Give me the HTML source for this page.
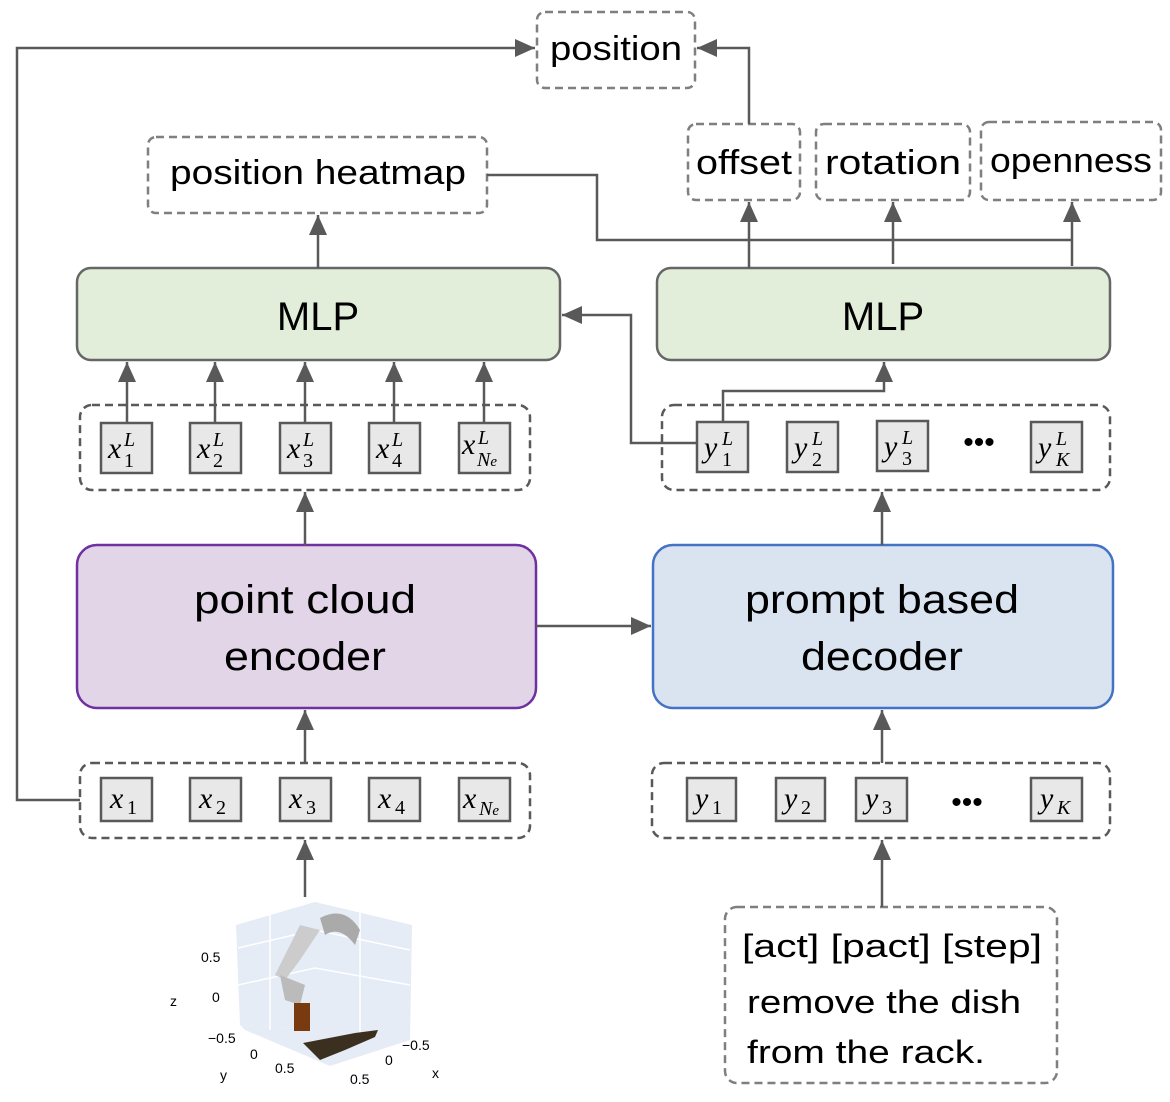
<!DOCTYPE html>
<html><head><meta charset="utf-8"><style>
html,body{margin:0;padding:0;background:#fff}
svg{display:block}
text{font-family:"Liberation Sans",sans-serif;fill:#000}
.m text{font-family:"Liberation Serif",serif}
</style></head><body>
<svg width="1170" height="1102" viewBox="0 0 1170 1102" xmlns="http://www.w3.org/2000/svg">
<defs>
<marker id="b" viewBox="0 0 10 10" refX="10" refY="5" markerWidth="20" markerHeight="18" orient="auto" markerUnits="userSpaceOnUse" preserveAspectRatio="none">
<path d="M0,0 L10,5 L0,10 z" fill="#595959"/></marker>
</defs>
<g fill="none" stroke="#7f7f7f" stroke-width="2.5" stroke-dasharray="8,5">
<rect x="537" y="12" width="158" height="76" rx="8"/>
<rect x="148" y="137" width="339" height="76" rx="8"/>
<rect x="688" y="124" width="112" height="76" rx="8"/>
<rect x="816" y="124" width="154" height="76" rx="8"/>
<rect x="981" y="122" width="180" height="78" rx="8"/>
<rect x="725" y="907" width="332" height="176" rx="12"/>
</g>
<g fill="none" stroke="#595959" stroke-width="2.5" stroke-dasharray="8,5">
<rect x="80" y="405" width="450" height="85" rx="12"/>
<rect x="662" y="405" width="448" height="85" rx="12"/>
<rect x="80" y="763" width="450" height="75" rx="12"/>
<rect x="652" y="763" width="458" height="75" rx="12"/>
</g>
<text x="616" y="60" font-size="34" text-anchor="middle" textLength="132" lengthAdjust="spacingAndGlyphs">position</text>
<text x="318" y="184" font-size="34" text-anchor="middle" textLength="296" lengthAdjust="spacingAndGlyphs">position heatmap</text>
<text x="744" y="174" font-size="34" text-anchor="middle" textLength="96" lengthAdjust="spacingAndGlyphs">offset</text>
<text x="893" y="174" font-size="34" text-anchor="middle" textLength="136" lengthAdjust="spacingAndGlyphs">rotation</text>
<text x="1071" y="172" font-size="34" text-anchor="middle" textLength="162" lengthAdjust="spacingAndGlyphs">openness</text>
<rect x="77" y="268" width="483" height="92" rx="14" fill="#e2eed9" stroke="#666" stroke-width="2.5"/>
<rect x="657" y="268" width="453" height="92" rx="14" fill="#e2eed9" stroke="#666" stroke-width="2.5"/>
<text x="318" y="330" font-size="40" text-anchor="middle">MLP</text>
<text x="883" y="330" font-size="40" text-anchor="middle">MLP</text>
<rect x="77" y="545" width="459" height="163" rx="20" fill="#e1d5e7" stroke="#7030a0" stroke-width="2.5"/>
<rect x="653" y="545" width="460" height="163" rx="20" fill="#dae3f0" stroke="#4472c4" stroke-width="2.5"/>
<text x="305" y="613" font-size="40" text-anchor="middle" textLength="222" lengthAdjust="spacingAndGlyphs">point cloud</text>
<text x="305" y="670" font-size="40" text-anchor="middle" textLength="162" lengthAdjust="spacingAndGlyphs">encoder</text>
<text x="882" y="613" font-size="40" text-anchor="middle" textLength="274" lengthAdjust="spacingAndGlyphs">prompt based</text>
<text x="882" y="670" font-size="40" text-anchor="middle" textLength="162" lengthAdjust="spacingAndGlyphs">decoder</text>
<g fill="#e8e8e8" stroke="#595959" stroke-width="2.5">
<rect x="101" y="423" width="51" height="50"/><rect x="190" y="423" width="51" height="50"/><rect x="280" y="423" width="51" height="50"/><rect x="369" y="423" width="51" height="50"/><rect x="459" y="423" width="51" height="50"/>
<rect x="697" y="422" width="51" height="50"/><rect x="787" y="422" width="51" height="50"/><rect x="877" y="421" width="51" height="50"/><rect x="1031" y="422" width="51" height="50"/>
<rect x="101" y="778" width="51" height="43"/><rect x="190" y="778" width="51" height="43"/><rect x="280" y="778" width="51" height="43"/><rect x="369" y="778" width="51" height="43"/><rect x="459" y="778" width="51" height="43"/>
<rect x="687" y="778" width="49" height="43"/><rect x="776" y="778" width="49" height="43"/><rect x="856" y="778" width="51" height="43"/><rect x="1031" y="778" width="51" height="43"/>
</g>
<g class="m" font-size="30" font-style="italic">
<text x="108" y="458">x</text><text x="124" y="446" font-size="20">L</text><text x="124" y="467" font-size="20" font-style="normal">1</text>
<text x="197" y="458">x</text><text x="213" y="446" font-size="20">L</text><text x="213" y="467" font-size="20" font-style="normal">2</text>
<text x="287" y="458">x</text><text x="303" y="446" font-size="20">L</text><text x="303" y="467" font-size="20" font-style="normal">3</text>
<text x="376" y="458">x</text><text x="392" y="446" font-size="20">L</text><text x="392" y="467" font-size="20" font-style="normal">4</text>
<text x="462" y="454">x</text><text x="478" y="444" font-size="20">L</text><text x="477" y="466" font-size="20">N<tspan font-size="15">e</tspan></text>
<text x="704" y="457">y</text><text x="722" y="445" font-size="20">L</text><text x="722" y="466" font-size="20" font-style="normal">1</text>
<text x="794" y="457">y</text><text x="812" y="445" font-size="20">L</text><text x="812" y="466" font-size="20" font-style="normal">2</text>
<text x="884" y="456">y</text><text x="902" y="444" font-size="20">L</text><text x="902" y="465" font-size="20" font-style="normal">3</text>
<text x="1038" y="457">y</text><text x="1056" y="445" font-size="20">L</text><text x="1056" y="466" font-size="20">K</text>
<text x="110" y="808">x</text><text x="127" y="814" font-size="20" font-style="normal">1</text>
<text x="199" y="808">x</text><text x="216" y="814" font-size="20" font-style="normal">2</text>
<text x="289" y="808">x</text><text x="306" y="814" font-size="20" font-style="normal">3</text>
<text x="378" y="808">x</text><text x="395" y="814" font-size="20" font-style="normal">4</text>
<text x="463" y="808">x</text><text x="479" y="815" font-size="20">N<tspan font-size="15">e</tspan></text>
<text x="695" y="808">y</text><text x="712" y="814" font-size="20" font-style="normal">1</text>
<text x="784" y="808">y</text><text x="801" y="814" font-size="20" font-style="normal">2</text>
<text x="865" y="808">y</text><text x="882" y="814" font-size="20" font-style="normal">3</text>
<text x="1040" y="808">y</text><text x="1057" y="814" font-size="20">K</text>
</g>
<text x="979" y="452" font-size="30" text-anchor="middle">•••</text>
<text x="967" y="812" font-size="30" text-anchor="middle">•••</text>
<text x="742" y="957" font-size="32" textLength="300" lengthAdjust="spacingAndGlyphs">[act] [pact]  [step]</text>
<text x="747" y="1013" font-size="32" textLength="274" lengthAdjust="spacingAndGlyphs">remove the dish</text>
<text x="747" y="1063" font-size="32" textLength="238" lengthAdjust="spacingAndGlyphs">from the rack.</text>
<g fill="none" stroke="#595959" stroke-width="2.5">
<path d="M80,800 H17 V48 H535" marker-end="url(#b)"/>
<path d="M749,124 V48 H697" marker-end="url(#b)"/>
<path d="M487,175 H597 V240 H1072"/>
<path d="M749,268 V202" marker-end="url(#b)"/>
<path d="M893,264 V202" marker-end="url(#b)"/>
<path d="M1072,266 V202" marker-end="url(#b)"/>
<path d="M318,268 V215" marker-end="url(#b)"/>
<path d="M127,423 V362" marker-end="url(#b)"/>
<path d="M215,423 V362" marker-end="url(#b)"/>
<path d="M305,423 V362" marker-end="url(#b)"/>
<path d="M394,423 V362" marker-end="url(#b)"/>
<path d="M484,423 V362" marker-end="url(#b)"/>
<path d="M723,422 V391 H884 V362" marker-end="url(#b)"/>
<path d="M697,443 H631 V315 H562" marker-end="url(#b)"/>
<path d="M305,545 V492" marker-end="url(#b)"/>
<path d="M882,545 V492" marker-end="url(#b)"/>
<path d="M536,626 H651" marker-end="url(#b)"/>
<path d="M305,763 V710" marker-end="url(#b)"/>
<path d="M882,763 V710" marker-end="url(#b)"/>
<path d="M305,897 V840" marker-end="url(#b)"/>
<path d="M882,907 V840" marker-end="url(#b)"/>
</g>
<g>
<polygon points="236,925 315,902 315,1030 240,1025" fill="#e5ecf6"/>
<polygon points="315,902 412,925 410,1040 315,1030" fill="#e5ecf6"/>
<polygon points="240,1025 315,1030 410,1040 330,1066 245,1030" fill="#e5ecf6"/>
<g stroke="#fff" stroke-width="1.5" fill="none">
<path d="M238,948 L315,930 L410,950"/><path d="M238,985 L315,968 L410,985"/>
<path d="M270,915 V1030"/><path d="M360,912 V1035"/>
</g>
<path d="M320,918 Q345,905 360,930 L355,945 Q340,925 325,935 Z" fill="#aaa"/>
<path d="M300,925 L320,930 L300,960 L285,980 L275,975 Z" fill="#ccc"/>
<path d="M280,975 L305,985 L300,1005 L285,1000 Z" fill="#bbb"/>
<rect x="294" y="1003" width="16" height="28" fill="#7a3a10"/>
<polygon points="303,1043 355,1033 378,1030 375,1037 345,1050 320,1060" fill="#3b3020"/>
<g font-size="14" fill="#2a3f5f">
<text x="201" y="962">0.5</text><text x="212" y="1002">0</text><text x="170" y="1006">z</text>
<text x="208" y="1043">−0.5</text><text x="250" y="1059">0</text><text x="220" y="1080">y</text>
<text x="275" y="1073">0.5</text><text x="402" y="1050">−0.5</text><text x="385" y="1065">0</text>
<text x="350" y="1084">0.5</text><text x="432" y="1078">x</text>
</g>
</g>
</svg>
</body></html>
